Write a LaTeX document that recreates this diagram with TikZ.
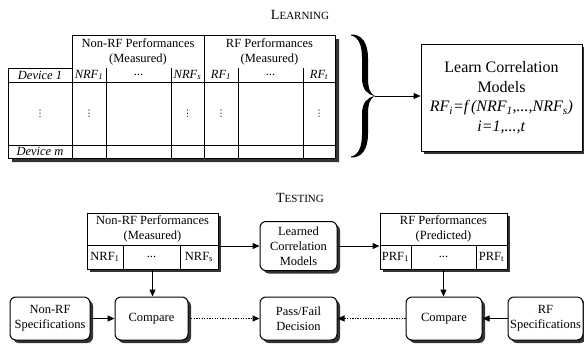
\documentclass[tikz,border=0pt]{standalone}
\usepackage{fontspec}
\setmainfont{Liberation Serif}
\newfontfamily\dejavu{DejaVu Sans}
\usetikzlibrary{arrows.meta,shadows}
\begin{document}
\begin{tikzpicture}[x=1pt,y=-1pt,
 every node/.style={font=\fontsize{12.5}{15}\selectfont, inner sep=0pt},
 shad/.style={drop shadow={shadow xshift=3pt,shadow yshift=-3pt,fill=black!80,opacity=1}},
 rbox/.style={draw, line width=1pt, rounded corners=6pt, fill=white, shad, align=center},
 sbox/.style={draw, line width=1pt, fill=white, shad},
 arr/.style={line width=1pt, -{Triangle[length=7pt,width=6pt]}},
 dotarr/.style={arr, dash pattern=on 1.3pt off 1.3pt},
 tline/.style={line width=0.7pt},
 cell/.style={font=\fontsize{12.5}{15}\selectfont\itshape},
 vd/.style={font=\fontsize{9}{10}\selectfont\dejavu}]
\useasboundingbox (0,0) rectangle (584,349);

% titles
\node (tlearn) at (300,15) {\fontsize{14}{16}\selectfont L\fontsize{11}{13}\selectfont EARNING};
\node (ttest) at (300,198) {\fontsize{14}{16}\selectfont T\fontsize{11}{13}\selectfont ESTING};

% ---------- learning table ----------
\fill[black!80] (76,39) -- (339,39) -- (339,162) -- (12,162) -- (12,72) -- (76,72) -- cycle;
\filldraw[fill=white, line width=1pt] (72,35) -- (335,35) -- (335,158) -- (8,158) -- (8,68) -- (72,68) -- cycle;
\draw[tline] (204,35) -- (204,158);
\draw[tline] (8,82) -- (335,82);
\draw[tline] (8,145) -- (335,145);
\foreach \x in {72,106,171,238,303} \draw[tline] (\x,68) -- (\x,158);

\node[align=center] (hnrf) at (138,51.5) {Non-RF Performances\\(Measured)};
\node[align=center] (hrf) at (269.5,51.5) {RF Performances\\(Measured)};

\node[cell] (dev1) at (40,75) {Device 1};
\node[cell] (c1) at (89,75) {NRF\textsubscript{1}};
\node (c2) at (138.5,75) {...};
\node[cell] (c3) at (187.5,75) {NRF\textsubscript{s}};
\node[cell] (c4) at (221,75) {RF\textsubscript{1}};
\node (c5) at (270.5,75) {...};
\node[cell] (c6) at (319,75) {RF\textsubscript{t}};

\node[vd] (v0) at (40,113.5) {⋮};
\node[vd] (v1) at (89,113.5) {⋮};
\node[vd] (v3) at (187.5,113.5) {⋮};
\node[vd] (v4) at (221,113.5) {⋮};
\node[vd] (v6) at (319,113.5) {⋮};

\node[cell] (devm) at (40,151.5) {Device m};

% brace
\fill (351,35.5) .. controls (359,37) and (362,46) .. (362,58) -- (362,78)
 .. controls (362,89) and (367,94.5) .. (375,96)
 .. controls (367,97.5) and (362,103) .. (362,114) -- (362,134)
 .. controls (362,146) and (359,155) .. (351,156.5)
 -- (351,157.5) .. controls (361,158) and (368,150) .. (368,134) -- (368,114)
 .. controls (368,104) and (370,98) .. (375,96)
 .. controls (370,94) and (368,88) .. (368,78) -- (368,58)
 .. controls (368,42) and (361,34) .. (351,34.5) -- cycle;
\coordinate (tip) at (375,96);

% learn box
\node[sbox, minimum width=161pt, minimum height=107pt, align=center,
  font=\fontsize{16}{19.5}\selectfont] (learn) at (501.5,97.5)
  {Learn Correlation\\Models\\\textit{RF\textsubscript{i}=f\,(NRF\textsubscript{1},...,NRF\textsubscript{s})}\\\textit{i=1,...,t}};
\draw[arr] (tip) -- (learn.west |- tip);

% ---------- testing ----------
\node[sbox, minimum width=131pt, minimum height=56pt] (nrfbox) at (152.5,241) {};
\node[align=center] (nrft) at (152.5,229) {Non-RF Performances\\(Measured)};
\draw[tline] (87,245) -- (218,245);
\draw[tline] (123,245) -- (123,269);
\draw[tline] (180,245) -- (180,269);
\node (n1) at (105,257) {NRF\textsubscript{1}};
\node (n2) at (151.5,257) {...};
\node (n3) at (199,257) {NRF\textsubscript{s}};

\node[rbox, minimum width=77pt, minimum height=49pt] (learned) at (298.5,246) {Learned\\Correlation\\Models};

\node[sbox, minimum width=127pt, minimum height=56pt] (rfbox) at (443.5,241) {};
\node[align=center] (rft) at (443.5,229) {RF Performances\\(Predicted)};
\draw[tline] (380,245) -- (507,245);
\draw[tline] (411,245) -- (411,269);
\draw[tline] (476,245) -- (476,269);
\node (p1) at (395.5,257) {PRF\textsubscript{1}};
\node (p2) at (443.5,257) {...};
\node (p3) at (491.5,257) {PRF\textsubscript{t}};

\node[rbox, minimum width=80pt, minimum height=43pt] (nrfspec) at (50,318.5) {Non-RF\\Specifications};
\node[rbox, minimum width=73pt, minimum height=43pt] (cmp1) at (151.5,318.5) {Compare};
\node[rbox, minimum width=77pt, minimum height=43pt] (pf) at (298.5,318.5) {Pass/Fail\\Decision};
\node[rbox, minimum width=76pt, minimum height=43pt] (cmp2) at (444,318.5) {Compare};
\node[rbox, minimum width=75pt, minimum height=43pt] (rfspec) at (545.5,318.5) {RF\\Specifications};

\draw[arr] (nrfbox.east |- learned.west) -- (learned.west);
\draw[arr] (learned.east) -- (rfbox.west |- learned.east);
\draw[arr] (nrfbox.south) -- (nrfbox.south |- cmp1.north);
\draw[arr] (rfbox.south) -- (rfbox.south |- cmp2.north);
\draw[arr] (nrfspec.east) -- (cmp1.west);
\draw[arr] (rfspec.west) -- (cmp2.east);
\draw[dotarr] (cmp1.east) -- (pf.west);
\draw[dotarr] (cmp2.west) -- (pf.east);
\end{tikzpicture}
\end{document}
